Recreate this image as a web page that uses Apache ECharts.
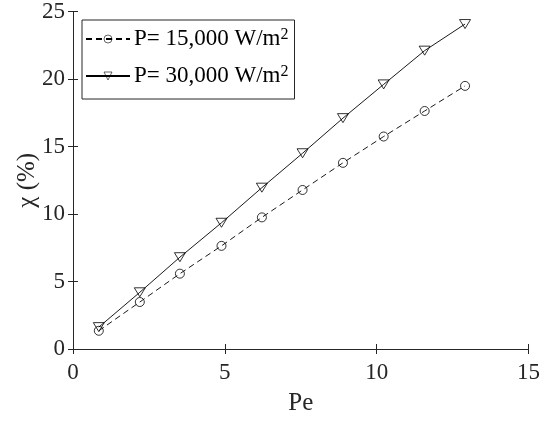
<!DOCTYPE html>
<html>
<head>
<meta charset="utf-8">
<script src="https://cdn.jsdelivr.net/npm/echarts@6/dist/echarts.min.js"></script>
<style>html,body{margin:0;padding:0;background:#fff;}#c{width:543px;height:421px;}</style>
</head>
<body>
<div id="c"></div>
<script>
const peValues = [0.85, 2.20, 3.52, 4.89, 6.22, 7.56, 8.89, 10.23, 11.58, 12.91];
const chi15000 = [1.35, 3.48, 5.58, 7.64, 9.75, 11.78, 13.79, 15.74, 17.63, 19.49];
const chi30000 = [1.62, 4.2, 6.8, 9.35, 11.95, 14.5, 17.1, 19.6, 22.1, 24.07];
const xTicks = [0, 5, 10, 15];
const yTicks = [0, 5, 10, 15, 20, 25];
const seriesNames = ['P= 15,000 W/m2', 'P= 30,000 W/m2'];

const FONT = '"Liberation Serif", "Times New Roman", Times, serif';
const AX = '#262626';
const chart = echarts.init(document.getElementById('c'));

function pairs(xs, ys) { return xs.map((x, i) => [x, ys[i]]); }

const baseAxis = {
  axisLine: { show: true, lineStyle: { color: AX, width: 1 } },
  axisTick: { show: true, inside: true, length: 5, lineStyle: { color: AX } },
  splitLine: { show: false },
  axisLabel: { show: false }
};

chart.setOption({
  animation: false,
  backgroundColor: '#fff',
  grid: { left: 73, right: 11, top: 10, bottom: 72, containLabel: false },
  xAxis: [
    Object.assign({}, baseAxis, {
      type: 'value', min: xTicks[0], max: xTicks[xTicks.length - 1], interval: 5, position: 'bottom',
      name: 'Pe', nameLocation: 'middle', nameGap: 42, nameMoveOverlap: false,
      nameTextStyle: { fontFamily: FONT, fontSize: 25, color: AX },
      axisLabel: { show: true, fontFamily: FONT, fontSize: 23, color: AX, margin: 12 }
    }),
    Object.assign({}, baseAxis, {
      type: 'value', min: xTicks[0], max: xTicks[xTicks.length - 1], interval: 5, position: 'top'
    })
  ],
  yAxis: [
    Object.assign({}, baseAxis, {
      type: 'value', min: yTicks[0], max: yTicks[yTicks.length - 1], interval: 5, position: 'left',
      name: '\u03c7 (%)', nameLocation: 'middle', nameGap: 33, nameMoveOverlap: false,
      nameTextStyle: { fontFamily: FONT, fontSize: 25, color: AX },
      axisLabel: { show: true, fontFamily: FONT, fontSize: 23, color: AX, margin: 8 }
    }),
    Object.assign({}, baseAxis, {
      type: 'value', min: yTicks[0], max: yTicks[yTicks.length - 1], interval: 5, position: 'right'
    })
  ],
  legend: {
    orient: 'vertical', left: 82, top: 20,
    itemWidth: 44, itemHeight: 10, itemGap: 9,
    padding: [7, 6, 7, 3],
    borderColor: AX, borderWidth: 1, backgroundColor: '#fff',
    itemStyle: { borderWidth: 0.6 },
    data: seriesNames,
    formatter: function (name) { return '{a|' + name.slice(0, -1) + '}{s|2}'; },
    textStyle: {
      fontFamily: FONT, fontSize: 23, color: '#000', padding: [0, 0, 0, -1],
      rich: {
        a: { fontFamily: FONT, fontSize: 23, color: '#000', lineHeight: 24 },
        s: { fontFamily: FONT, fontSize: 16, color: '#000', lineHeight: 24, verticalAlign: 'top', padding: [0, 0, 12, 0] }
      }
    }
  },
  series: [
    {
      name: seriesNames[0], type: 'line', xAxisIndex: 0, yAxisIndex: 0,
      data: pairs(peValues, chi15000),
      symbol: 'circle', symbolSize: 9,
      itemStyle: { color: 'rgba(0,0,0,0)', borderColor: '#000', borderWidth: 0.8 },
      lineStyle: { color: '#000', width: 0.9, type: [6, 4] }
    },
    {
      name: seriesNames[1], type: 'line', xAxisIndex: 0, yAxisIndex: 0,
      data: pairs(peValues, chi30000),
      symbol: 'triangle', symbolRotate: 180, symbolSize: [11, 9],
      itemStyle: { color: 'rgba(0,0,0,0)', borderColor: '#000', borderWidth: 0.8 },
      lineStyle: { color: '#000', width: 0.9, type: 'solid' }
    }
  ]
});
</script>
</body>
</html>
